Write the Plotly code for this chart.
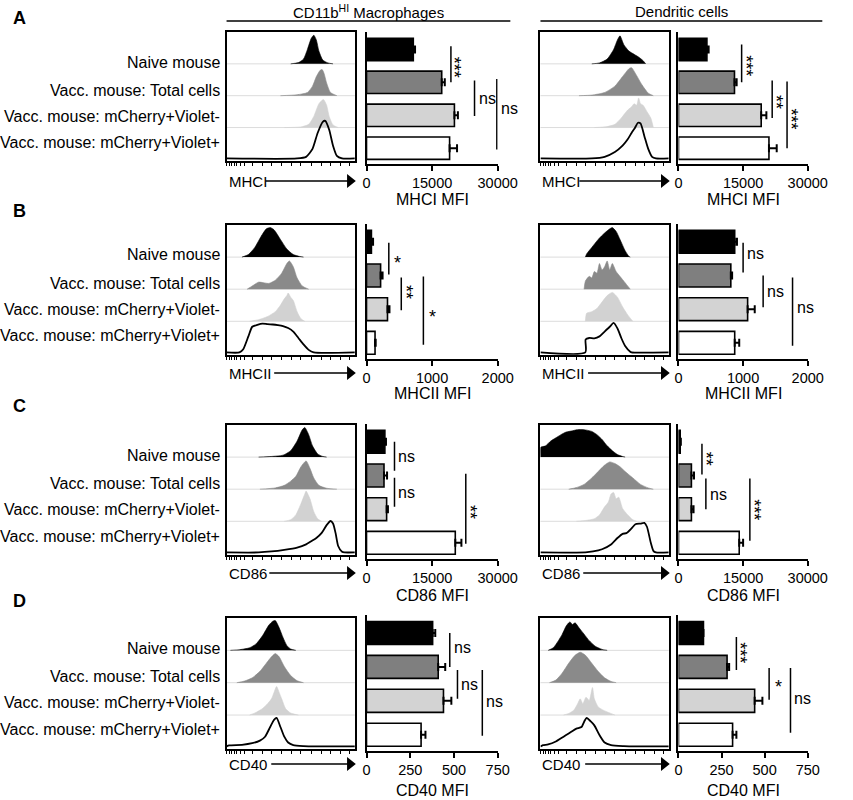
import plotly.graph_objects as go

W, H = 853, 800
FONT = "Liberation Sans, Arial, Helvetica, sans-serif"

GROUPS = [
    "Naive mouse",
    "Vacc. mouse: Total cells",
    "Vacc. mouse: mCherry+Violet-",
    "Vacc. mouse: mCherry+Violet+",
]
MARKERS = ["MHCI", "MHCII", "CD86", "CD40"]
PANEL_LETTERS = ["A", "B", "C", "D"]
CELL_TYPES = ["CD11b<sup>HI</sup> Macrophages", "Dendritic cells"]
BAR_TICKS = [
    [0, 15000, 30000],
    [0, 1000, 2000],
    [0, 15000, 30000],
    [0, 250, 500, 750],
]

# bar values (MFI) and SEM, order = GROUPS
MFI_MHCI_MAC = [10700, 17200, 20100, 19000]
SEM_MHCI_MAC = [400, 700, 800, 1700]
MFI_MHCI_DC = [6600, 13000, 19200, 21000]
SEM_MHCI_DC = [400, 500, 1200, 1800]
MFI_MHCII_MAC = [75, 215, 320, 130]
SEM_MHCII_MAC = [25, 30, 30, 10]
MFI_MHCII_DC = [870, 810, 1070, 870]
SEM_MHCII_DC = [35, 20, 110, 70]
MFI_CD86_MAC = [4200, 4000, 4600, 20300]
SEM_CD86_MAC = [250, 700, 300, 1400]
MFI_CD86_DC = [400, 3000, 3000, 14100]
SEM_CD86_DC = [150, 600, 500, 900]
MFI_CD40_MAC = [378, 410, 440, 312]
SEM_CD40_MAC = [15, 40, 45, 25]
MFI_CD40_DC = [145, 282, 442, 314]
SEM_CD40_DC = [0, 12, 45, 22]

# significance brackets: (x in MFI, y from, y to, label, label y)
SIG_MHCI_MAC = [(19300, -0.1, 1.0, "***", 0.55), (24700, 0.94, 2.02, "ns", 1.5), (29800, 0.9, 3.04, "ns", 1.8)]
SIG_MHCI_DC = [(14660, -0.15, 1.0, "***", 0.5), (21750, 0.94, 2.08, "**", 1.6), (25200, 0.97, 3.0, "***", 2.1)]
SIG_MHCII_MAC = [(340, 0.03, 0.97, "*", 0.5), (530, 1.06, 2.03, "**", 1.5), (867, 1.03, 3.06, "*", 2.1)]
SIG_MHCII_DC = [(1000, 0.03, 0.91, "ns", 0.35), (1310, 1.0, 1.94, "ns", 1.47), (1765, 1.06, 3.09, "ns", 1.94)]
SIG_CD86_MAC = [(6400, 0.0, 0.86, "ns", 0.45), (6400, 1.07, 1.93, "ns", 1.5), (22700, 0.95, 3.03, "**", 2.08)]
SIG_CD86_DC = [(5450, 0.06, 0.97, "**", 0.5), (6360, 1.09, 2.0, "ns", 1.57), (16570, 1.09, 2.94, "***", 2.03)]
SIG_CD40_MAC = [(476, 0.0, 1.0, "ns", 0.44), (520, 1.09, 1.94, "ns", 1.53), (662, 1.09, 3.03, "ns", 2.03)]
SIG_CD40_DC = [(336, 0.12, 1.09, "***", 0.58), (526, 1.03, 1.97, "*", 1.48), (650, 1.03, 2.94, "ns", 1.94)]

# histogram outlines: (fluorescence position 0-1, height) per group
HIST_MHCI_MAC = [
    [(0.50, 0), (0.56, 0.04), (0.60, 0.15), (0.63, 0.45), (0.66, 0.8), (0.68, 0.9), (0.70, 0.75), (0.72, 0.4), (0.75, 0.12), (0.79, 0.03), (0.83, 0)],
    [(0.42, 0), (0.55, 0.03), (0.63, 0.1), (0.67, 0.3), (0.70, 0.6), (0.73, 0.8), (0.745, 0.82), (0.76, 0.7), (0.78, 0.4), (0.81, 0.1), (0.86, 0)],
    [(0.45, 0), (0.58, 0.02), (0.64, 0.1), (0.68, 0.35), (0.72, 0.75), (0.755, 0.88), (0.78, 0.7), (0.80, 0.35), (0.83, 0.08), (0.87, 0)],
    [(0, 0), (0.55, 0), (0.62, 0.05), (0.67, 0.3), (0.71, 0.8), (0.75, 1.15), (0.77, 1.18), (0.80, 0.9), (0.83, 0.4), (0.86, 0.08), (0.90, 0), (1, 0)],
]
HIST_MHCI_DC = [
    [(0.40, 0), (0.46, 0.03), (0.52, 0.15), (0.57, 0.45), (0.60, 0.75), (0.62, 0.88), (0.65, 0.6), (0.69, 0.4), (0.73, 0.3), (0.77, 0.2), (0.80, 0.1), (0.82, 0)],
    [(0.30, 0), (0.40, 0.02), (0.50, 0.1), (0.58, 0.3), (0.64, 0.6), (0.69, 0.85), (0.71, 0.88), (0.74, 0.7), (0.79, 0.35), (0.84, 0.08), (0.88, 0)],
    [(0.42, 0), (0.52, 0.03), (0.58, 0.1), (0.63, 0.3), (0.68, 0.55), (0.71, 0.65), (0.73, 0.75), (0.75, 0.7), (0.765, 0.93), (0.78, 0.75), (0.80, 0.7), (0.83, 0.5), (0.86, 0.3), (0.88, 0)],
    [(0, 0), (0.40, 0), (0.50, 0.05), (0.58, 0.2), (0.64, 0.4), (0.68, 0.6), (0.71, 0.8), (0.735, 0.95), (0.76, 1.12), (0.78, 1.1), (0.81, 0.7), (0.84, 0.3), (0.87, 0.05), (0.90, 0), (1, 0)],
]
HIST_MHCII_MAC = [
    [(0.12, 0), (0.17, 0.08), (0.22, 0.3), (0.27, 0.65), (0.31, 0.88), (0.34, 0.92), (0.37, 0.85), (0.42, 0.55), (0.47, 0.25), (0.52, 0.08), (0.57, 0.02), (0.60, 0)],
    [(0.16, 0), (0.20, 0.1), (0.25, 0.22), (0.29, 0.2), (0.33, 0.18), (0.38, 0.28), (0.43, 0.5), (0.47, 0.8), (0.49, 0.88), (0.52, 0.7), (0.55, 0.35), (0.59, 0.1), (0.64, 0)],
    [(0.18, 0), (0.25, 0.05), (0.32, 0.15), (0.38, 0.3), (0.42, 0.5), (0.45, 0.7), (0.47, 0.8), (0.48, 0.88), (0.50, 0.75), (0.52, 0.65), (0.55, 0.3), (0.58, 0.08), (0.61, 0)],
    [(0, 0), (0.10, 0), (0.13, 0.1), (0.17, 0.5), (0.20, 0.8), (0.24, 0.86), (0.28, 0.9), (0.32, 0.88), (0.36, 0.87), (0.40, 0.85), (0.44, 0.82), (0.48, 0.76), (0.52, 0.65), (0.56, 0.45), (0.60, 0.25), (0.64, 0.08), (0.68, 0), (1, 0)],
]
HIST_MHCII_DC = [
    [(0.35, 0), (0.36, 0.1), (0.40, 0.3), (0.45, 0.55), (0.50, 0.75), (0.54, 0.88), (0.56, 0.92), (0.59, 0.8), (0.62, 0.55), (0.66, 0.2), (0.69, 0.02), (0.70, 0)],
    [(0.34, 0), (0.35, 0.25), (0.38, 0.4), (0.40, 0.35), (0.42, 0.55), (0.44, 0.5), (0.46, 0.8), (0.48, 0.6), (0.50, 0.7), (0.52, 0.88), (0.54, 0.6), (0.56, 0.8), (0.59, 0.55), (0.63, 0.35), (0.67, 0.15), (0.70, 0)],
    [(0.35, 0), (0.36, 0.25), (0.40, 0.3), (0.44, 0.4), (0.48, 0.6), (0.52, 0.8), (0.56, 0.9), (0.60, 0.75), (0.64, 0.45), (0.68, 0.2), (0.72, 0)],
    [(0, 0), (0.35, 0), (0.352, 0.4), (0.38, 0.45), (0.42, 0.44), (0.46, 0.5), (0.50, 0.65), (0.54, 0.8), (0.57, 0.92), (0.60, 0.75), (0.63, 0.45), (0.66, 0.2), (0.70, 0.02), (0.71, 0), (1, 0)],
]
HIST_CD86_MAC = [
    [(0.25, 0), (0.35, 0.02), (0.44, 0.06), (0.50, 0.2), (0.55, 0.5), (0.59, 0.85), (0.61, 0.92), (0.64, 0.7), (0.67, 0.35), (0.71, 0.1), (0.75, 0.02), (0.78, 0)],
    [(0.26, 0), (0.38, 0.04), (0.45, 0.12), (0.50, 0.25), (0.54, 0.4), (0.58, 0.7), (0.62, 0.88), (0.65, 0.65), (0.68, 0.35), (0.72, 0.12), (0.78, 0.03), (0.86, 0)],
    [(0.45, 0), (0.50, 0.05), (0.54, 0.2), (0.58, 0.55), (0.61, 0.85), (0.62, 0.94), (0.65, 0.7), (0.68, 0.3), (0.71, 0.08), (0.74, 0)],
    [(0, 0), (0.25, 0), (0.35, 0.03), (0.45, 0.08), (0.55, 0.15), (0.62, 0.25), (0.66, 0.35), (0.70, 0.45), (0.74, 0.6), (0.78, 0.85), (0.81, 0.98), (0.83, 0.9), (0.85, 0.6), (0.87, 0.2), (0.90, 0.02), (0.92, 0), (1, 0)],
]
HIST_CD86_DC = [
    [(0.0, 0), (0.0, 0.3), (0.04, 0.35), (0.08, 0.5), (0.12, 0.6), (0.16, 0.7), (0.20, 0.78), (0.25, 0.82), (0.28, 0.85), (0.32, 0.86), (0.36, 0.84), (0.40, 0.8), (0.44, 0.7), (0.48, 0.55), (0.52, 0.35), (0.56, 0.2), (0.60, 0.08), (0.64, 0.02), (0.66, 0)],
    [(0.22, 0), (0.28, 0.05), (0.34, 0.15), (0.40, 0.35), (0.45, 0.55), (0.50, 0.75), (0.54, 0.85), (0.58, 0.8), (0.62, 0.7), (0.66, 0.55), (0.72, 0.35), (0.78, 0.15), (0.84, 0.04), (0.88, 0)],
    [(0.28, 0), (0.36, 0.03), (0.42, 0.08), (0.46, 0.2), (0.50, 0.45), (0.53, 0.6), (0.55, 0.85), (0.57, 0.9), (0.59, 0.7), (0.61, 0.75), (0.64, 0.4), (0.68, 0.2), (0.72, 0.05), (0.75, 0)],
    [(0, 0), (0.35, 0), (0.41, 0.03), (0.48, 0.1), (0.55, 0.25), (0.60, 0.45), (0.64, 0.58), (0.67, 0.6), (0.71, 0.75), (0.74, 0.88), (0.78, 0.9), (0.81, 0.92), (0.83, 0.8), (0.86, 0.3), (0.88, 0.05), (0.90, 0), (1, 0)],
]
HIST_CD40_MAC = [
    [(0.03, 0), (0.10, 0.02), (0.18, 0.08), (0.23, 0.2), (0.28, 0.45), (0.33, 0.78), (0.36, 0.9), (0.38, 0.92), (0.41, 0.7), (0.44, 0.4), (0.47, 0.15), (0.50, 0.04), (0.54, 0)],
    [(0.08, 0), (0.14, 0.05), (0.20, 0.15), (0.26, 0.35), (0.31, 0.6), (0.35, 0.8), (0.38, 0.9), (0.41, 0.8), (0.45, 0.5), (0.50, 0.22), (0.55, 0.06), (0.60, 0)],
    [(0.18, 0), (0.23, 0.08), (0.28, 0.2), (0.32, 0.35), (0.35, 0.5), (0.37, 0.7), (0.39, 0.88), (0.41, 0.7), (0.43, 0.5), (0.46, 0.2), (0.50, 0.06), (0.56, 0)],
    [(0, 0), (0.02, 0.03), (0.12, 0.05), (0.20, 0.1), (0.26, 0.18), (0.30, 0.3), (0.34, 0.6), (0.37, 0.82), (0.39, 0.88), (0.42, 0.6), (0.45, 0.3), (0.48, 0.12), (0.52, 0.04), (0.60, 0.01), (0.70, 0), (1, 0)],
]
HIST_CD40_DC = [
    [(0.06, 0), (0.10, 0.08), (0.14, 0.3), (0.17, 0.5), (0.20, 0.75), (0.22, 0.85), (0.23, 0.88), (0.25, 0.8), (0.27, 0.85), (0.30, 0.7), (0.34, 0.5), (0.38, 0.3), (0.43, 0.12), (0.48, 0.03), (0.52, 0)],
    [(0.07, 0), (0.12, 0.08), (0.17, 0.3), (0.22, 0.6), (0.27, 0.85), (0.31, 0.94), (0.35, 0.85), (0.40, 0.6), (0.45, 0.35), (0.50, 0.15), (0.55, 0.04), (0.59, 0)],
    [(0.18, 0), (0.22, 0.05), (0.26, 0.15), (0.29, 0.35), (0.31, 0.5), (0.33, 0.35), (0.355, 0.55), (0.38, 0.45), (0.405, 0.85), (0.42, 0.5), (0.45, 0.25), (0.49, 0.15), (0.53, 0.08), (0.58, 0)],
    [(0, 0), (0.02, 0.04), (0.06, 0.06), (0.12, 0.15), (0.16, 0.25), (0.20, 0.35), (0.24, 0.45), (0.28, 0.55), (0.32, 0.6), (0.345, 0.8), (0.36, 0.88), (0.39, 0.78), (0.42, 0.65), (0.46, 0.35), (0.50, 0.12), (0.55, 0.04), (0.65, 0.01), (0.75, 0), (1, 0)],
]

PANELS = [
    [(MFI_MHCI_MAC, SEM_MHCI_MAC, SIG_MHCI_MAC, HIST_MHCI_MAC), (MFI_MHCI_DC, SEM_MHCI_DC, SIG_MHCI_DC, HIST_MHCI_DC)],
    [(MFI_MHCII_MAC, SEM_MHCII_MAC, SIG_MHCII_MAC, HIST_MHCII_MAC), (MFI_MHCII_DC, SEM_MHCII_DC, SIG_MHCII_DC, HIST_MHCII_DC)],
    [(MFI_CD86_MAC, SEM_CD86_MAC, SIG_CD86_MAC, HIST_CD86_MAC), (MFI_CD86_DC, SEM_CD86_DC, SIG_CD86_DC, HIST_CD86_DC)],
    [(MFI_CD40_MAC, SEM_CD40_MAC, SIG_CD40_MAC, HIST_CD40_MAC), (MFI_CD40_DC, SEM_CD40_DC, SIG_CD40_DC, HIST_CD40_DC)],
]

# layout (pixels)
HIST_X = [(229, 361), (552, 684)]
BAR_X = [(373, 508), (694, 827)]
ROW_TOP = [32, 225, 425, 618]
HIST_BOTTOM = [161, 355, 555, 749]
BAR_TOP = [32, 224, 424, 615]
BAR_BOTTOM = [164, 359, 559, 751]
TITLE_OFFSET = [35, 35, 36, 39]
ARROW_Y = [181, 373, 573, 764]
LETTER_Y = [18, 211, 406, 601]
LABEL_OFFSETS = [30, 58, 84, 111]
ARROW_START = [269, 278, 273, 275]
HIST_TICKS = [0.0, 0.02, 0.04, 0.06, 0.08, 0.11, 0.14, 0.2, 0.28, 0.35, 0.43, 0.51,
              0.58, 0.66, 0.74, 0.81, 0.89, 0.96]
BASELINES = [3.05, 2.05, 1.05, 0.08]
FILL = ["#000000", "#8a8a8a", "#d2d2d2", None]
BAR_COLORS = ["#000000", "#7f7f7f", "#d3d3d3", "#ffffff"]


def px(x):
    return x / W


def py(y):
    return 1 - y / H


def ax_id(n):
    return "" if n == 1 else str(n)


def paper_text(x, y, text, size, xanchor="center"):
    return dict(
        x=px(x), y=py(y), xref="paper", yref="paper", text=text, showarrow=False,
        xanchor=xanchor, yanchor="middle", font=dict(size=size, color="black", family=FONT),
    )


fig = go.Figure()
layout = {}
shapes = []
annotations = []

for r, row in enumerate(PANELS):
    for c, (mfi, sem, sig, hist) in enumerate(row):
        n_h = 2 * (2 * r + c) + 1
        n_b = n_h + 1
        xh, yh = "x" + ax_id(n_h), "y" + ax_id(n_h)
        xb, yb = "x" + ax_id(n_b), "y" + ax_id(n_b)
        # histogram box
        for g, pts in enumerate(hist):
            xs = [p[0] for p in pts]
            ys = [BASELINES[g] + p[1] for p in pts]
            if FILL[g]:
                fig.add_trace(go.Scatter(
                    x=xs, y=ys, mode="lines", fill="toself",
                    fillcolor=FILL[g], line=dict(color=FILL[g], width=0.6, shape="spline", smoothing=0.6),
                    xaxis=xh, yaxis=yh, showlegend=False, hoverinfo="skip",
                ))
            else:
                fig.add_trace(go.Scatter(
                    x=xs, y=ys, mode="lines",
                    line=dict(color="black", width=1.8, shape="spline", smoothing=0.6),
                    xaxis=xh, yaxis=yh, showlegend=False, hoverinfo="skip",
                ))
        for g in range(3):
            shapes.append(dict(
                type="line", xref=f"{xh} domain", yref=yh,
                x0=0, x1=1, y0=BASELINES[g], y1=BASELINES[g],
                line=dict(color="#dcdcdc", width=1), layer="below",
            ))
        layout["xaxis" + ax_id(n_h)] = dict(
            domain=[px(HIST_X[c][0]), px(HIST_X[c][1])], anchor=yh,
            range=[0, 1], showline=True, mirror=True, linewidth=2, linecolor="black",
            ticks="outside", ticklen=3, tickwidth=1, tickcolor="black",
            tickvals=HIST_TICKS, showticklabels=False, showgrid=False, zeroline=False,
        )
        layout["yaxis" + ax_id(n_h)] = dict(
            domain=[py(HIST_BOTTOM[r]), py(ROW_TOP[r])], anchor=xh,
            range=[0, 4.05], showline=True, mirror=True, linewidth=2, linecolor="black",
            showticklabels=False, ticks="", showgrid=False, zeroline=False,
        )

        # bar chart
        fig.add_trace(go.Bar(
            x=mfi, y=[0, 1, 2, 3], orientation="h", width=0.68,
            marker=dict(color=BAR_COLORS, line=dict(color="black", width=1.6)),
            error_x=dict(type="data", symmetric=False, array=sem, arrayminus=[0, 0, 0, 0],
                         color="black", thickness=2, width=4),
            xaxis=xb, yaxis=yb, showlegend=False, hoverinfo="skip",
        ))
        ticks = BAR_TICKS[r]
        layout["xaxis" + ax_id(n_b)] = dict(
            domain=[px(BAR_X[c][0]), px(BAR_X[c][1])], anchor=yb,
            range=[0, ticks[-1]], tickvals=ticks, ticktext=[str(t) for t in ticks],
            showline=True, linewidth=2, linecolor="black",
            ticks="outside", ticklen=5, tickwidth=2, tickcolor="black",
            tickfont=dict(size=14.5, color="black", family=FONT),
            showgrid=False, zeroline=False,
        )
        layout["yaxis" + ax_id(n_b)] = dict(
            domain=[py(BAR_BOTTOM[r]), py(BAR_TOP[r])], anchor=xb,
            range=[3.48, -0.53], showline=True, linewidth=2, linecolor="black",
            showticklabels=False, ticks="", showgrid=False, zeroline=False,
        )
        for sx, y0, y1, lab, ly in sig:
            shapes.append(dict(
                type="line", xref=xb, yref=yb,
                x0=sx, x1=sx, y0=y0, y1=y1, line=dict(color="black", width=1.5),
            ))
            if lab == "ns":
                annotations.append(dict(
                    x=sx, y=ly, xref=xb, yref=yb, text="ns",
                    showarrow=False, xanchor="left", yanchor="middle", xshift=2,
                    font=dict(size=16, color="black", family=FONT),
                ))
            elif lab == "*":
                annotations.append(dict(
                    x=sx, y=ly, xref=xb, yref=yb, text="*",
                    showarrow=False, xanchor="center", yanchor="middle", xshift=9, yshift=-4,
                    font=dict(size=18, color="black", family=FONT),
                ))
            else:
                annotations.append(dict(
                    x=sx, y=ly, xref=xb, yref=yb, text=lab,
                    showarrow=False, xanchor="center", yanchor="middle", xshift=4, textangle=90,
                    font=dict(size=18, color="black", family=FONT),
                ))

        # axis captions
        annotations.append(paper_text((BAR_X[c][0] + BAR_X[c][1]) / 2, BAR_BOTTOM[r] + TITLE_OFFSET[r],
                                      f"{MARKERS[r]} MFI", 16))
        annotations.append(paper_text(HIST_X[c][0], ARROW_Y[r], MARKERS[r], 15, "left"))
        off = HIST_X[c][0] - HIST_X[0][0]
        ay = ARROW_Y[r]
        tip = HIST_X[c][1] + 1
        shapes.append(dict(
            type="line", xref="paper", yref="paper",
            x0=px(ARROW_START[r] + off), x1=px(tip - 8), y0=py(ay), y1=py(ay),
            line=dict(color="black", width=1.3),
        ))
        shapes.append(dict(
            type="path", xref="paper", yref="paper",
            path=f"M {px(tip - 9)} {py(ay - 7)} L {px(tip)} {py(ay)} L {px(tip - 9)} {py(ay + 7)} Z",
            fillcolor="black", line=dict(color="black", width=0),
        ))

    # group labels
    for g, name in enumerate(GROUPS):
        annotations.append(paper_text(224, ROW_TOP[r] + LABEL_OFFSETS[g], name, 16, "right"))
    annotations.append(paper_text(7, LETTER_Y[r], f"<b>{PANEL_LETTERS[r]}</b>", 18, "left"))

# column headers
HEADER_X = [(229, 521), (552, 842)]
for c, title in enumerate(CELL_TYPES):
    x0, x1 = HEADER_X[c]
    annotations.append(paper_text((x0 + x1) / 2, 11, title, 15))
    shapes.append(dict(
        type="line", xref="paper", yref="paper", x0=px(x0), x1=px(x1),
        y0=py(21), y1=py(21), line=dict(color="black", width=1.5),
    ))

fig.update_layout(
    width=W, height=H,
    margin=dict(l=0, r=0, t=0, b=0),
    paper_bgcolor="white", plot_bgcolor="white",
    font=dict(family=FONT, color="black"),
    shapes=shapes, annotations=annotations,
    showlegend=False,
    **layout,
)
fig.write_html(
    "out.html",
    config={"displayModeBar": False},
    post_script="document.body.style.margin='0';document.body.style.overflow='hidden';",
)
